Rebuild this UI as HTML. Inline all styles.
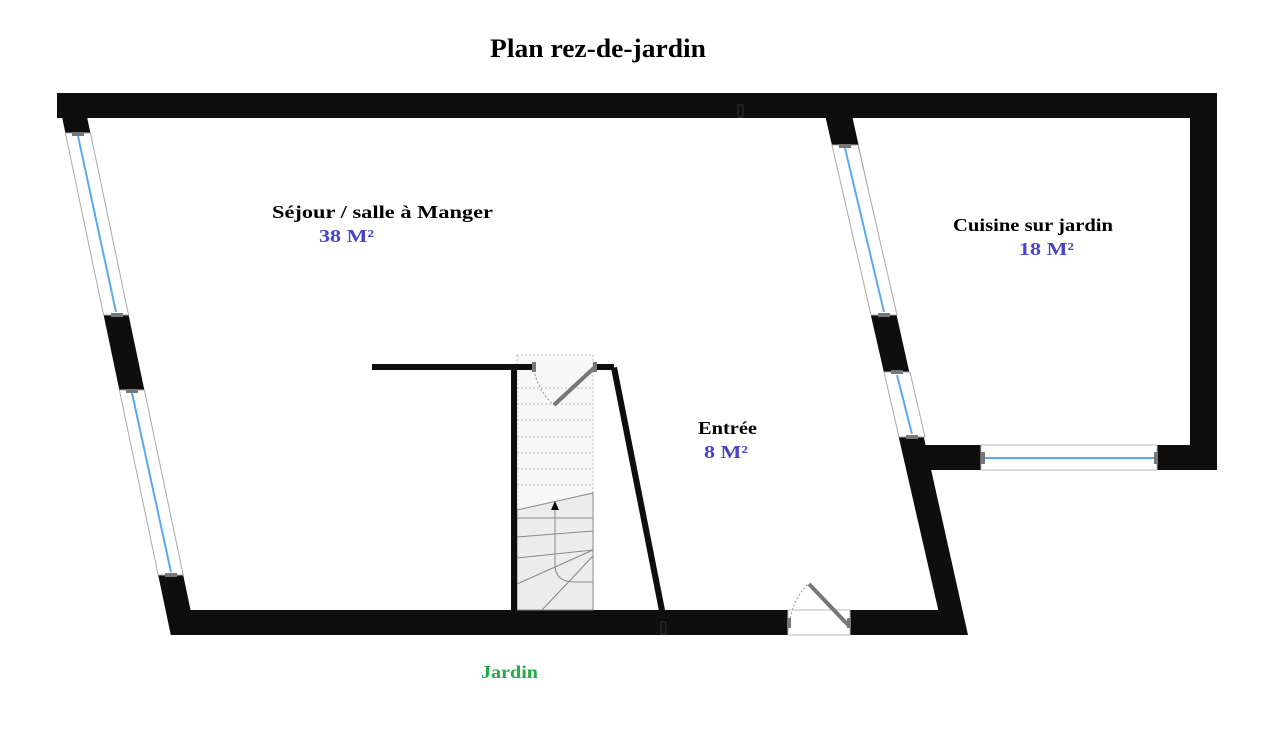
<!DOCTYPE html>
<html><head><meta charset="utf-8"><style>
html,body{margin:0;padding:0;background:#fff;}
svg{display:block;}
text{font-family:"Liberation Serif",serif;font-weight:bold;}
</style></head><body>
<svg width="1281" height="742" viewBox="0 0 1281 742" xmlns="http://www.w3.org/2000/svg">
<text x="490" y="57" font-size="26" textLength="216" lengthAdjust="spacingAndGlyphs" fill="#000">Plan rez-de-jardin</text>

<g fill="#0e0e0e">
  <rect x="57" y="93" width="1160" height="25"/>
  <polygon points="57,93 82,93 195.8,635 170.8,635"/>
  <rect x="180" y="610" width="608" height="25"/>
  <rect x="850" y="610" width="110" height="25"/>
  <polygon points="820,93 847,93 968,635 944,635"/>
  <rect x="1190" y="93" width="27" height="377"/>
  <rect x="915" y="445" width="302" height="25"/>
</g>

<g stroke-width="1">
  <polygon points="65.4,133 90.4,133 128.6,315 103.6,315" fill="#fff" stroke="#aaa"/>
  <line x1="78" y1="136" x2="116" y2="312" stroke="#5aaaf0" stroke-width="2"/>
  <polygon points="119.4,390 144.4,390 183.2,575 158.2,575" fill="#fff" stroke="#aaa"/>
  <line x1="132" y1="393" x2="171" y2="572" stroke="#5aaaf0" stroke-width="2"/>
  <polygon points="832,145 858,145 897,315 871,315" fill="#fff" stroke="#aaa"/>
  <line x1="845" y1="148" x2="884" y2="312" stroke="#5aaaf0" stroke-width="2"/>
  <polygon points="884,372 910,372 925,437 899,437" fill="#fff" stroke="#aaa"/>
  <line x1="897" y1="375" x2="912" y2="434" stroke="#5aaaf0" stroke-width="2"/>
  <rect x="981" y="445" width="176" height="25" fill="#fff" stroke="#bbb"/>
  <line x1="984" y1="458" x2="1154" y2="458" stroke="#5aaaf0" stroke-width="2"/>
</g>
<g fill="#777">
  <rect x="72" y="132" width="12" height="4"/><rect x="111" y="313" width="12" height="4"/>
  <rect x="126" y="389" width="12" height="4"/><rect x="165" y="573" width="12" height="4"/>
  <rect x="839" y="144" width="12" height="4"/><rect x="878" y="313" width="12" height="4"/>
  <rect x="891" y="370" width="12" height="4"/><rect x="906" y="435" width="12" height="4"/>
  <rect x="981" y="452" width="4" height="12"/><rect x="1154" y="452" width="4" height="12"/>
</g>

<rect x="788" y="610" width="62" height="25" fill="#fff" stroke="#bbb" stroke-width="1"/>
<line x1="849" y1="626" x2="809" y2="584" stroke="#777" stroke-width="4"/>
<path d="M790,622 A60,60 0 0 1 808,584" fill="none" stroke="#999" stroke-width="1" stroke-dasharray="2,2"/>
<rect x="787" y="618" width="4" height="10" fill="#777"/><rect x="847" y="618" width="4" height="10" fill="#777"/>

<rect x="517" y="355" width="76" height="255" fill="#f7f7f7" stroke="#bbb" stroke-width="1" stroke-dasharray="2,2"/>
<g stroke="#bbb" stroke-width="1" stroke-dasharray="2,2">
  <line x1="517" y1="388" x2="593" y2="388"/><line x1="517" y1="404" x2="593" y2="404"/>
  <line x1="517" y1="420" x2="593" y2="420"/><line x1="517" y1="437" x2="593" y2="437"/>
  <line x1="517" y1="453" x2="593" y2="453"/><line x1="517" y1="469" x2="593" y2="469"/>
  <line x1="517" y1="485" x2="593" y2="485"/>
</g>
<polygon points="517,510 593,493 593,610 517,610" fill="#ececec" stroke="#888" stroke-width="1"/>
<g stroke="#888" stroke-width="1" fill="none">
  <line x1="517" y1="518" x2="593" y2="518"/>
  <line x1="517" y1="537" x2="593" y2="531"/>
  <line x1="517" y1="558" x2="593" y2="550"/>
  <line x1="517" y1="584" x2="593" y2="550"/>
  <line x1="542" y1="610" x2="593" y2="556"/>
  <path d="M555,508 L555,565 Q555,582 575,582 L593,582"/>
</g>
<polygon points="555,501 551,510 559,510" fill="#000"/>

<g fill="#0e0e0e">
  <rect x="372" y="364" width="163" height="6"/>
  <rect x="511" y="364" width="6" height="256"/>
  <rect x="595" y="364" width="19" height="6"/>
  <polygon points="611,368 617,367 665,610 659,611"/>
</g>
<line x1="595" y1="367" x2="554" y2="405" stroke="#777" stroke-width="4"/>
<path d="M534,370 A60,60 0 0 0 554,405" fill="none" stroke="#999" stroke-width="1" stroke-dasharray="2,2"/>
<rect x="532" y="362" width="4" height="10" fill="#777"/><rect x="593" y="362" width="4" height="10" fill="#777"/>
<rect x="738" y="105" width="5" height="12" fill="none" stroke="#333" stroke-width="1"/>
<rect x="661" y="622" width="5" height="12" fill="none" stroke="#333" stroke-width="1"/>

<text x="272" y="218" font-size="18" textLength="221" lengthAdjust="spacingAndGlyphs" fill="#000">Séjour  /  salle à Manger</text>
<text x="319" y="242" font-size="18" textLength="55" lengthAdjust="spacingAndGlyphs" fill="#4646c8">38 M²</text>
<text x="953" y="231" font-size="18" textLength="160" lengthAdjust="spacingAndGlyphs" fill="#000">Cuisine sur jardin</text>
<text x="1019" y="255" font-size="18" textLength="55" lengthAdjust="spacingAndGlyphs" fill="#4646c8">18 M²</text>
<text x="698" y="434" font-size="18" textLength="59" lengthAdjust="spacingAndGlyphs" fill="#000">Entrée</text>
<text x="704" y="458" font-size="18" textLength="44" lengthAdjust="spacingAndGlyphs" fill="#4646c8">8 M²</text>
<text x="481" y="678" font-size="18" textLength="57" lengthAdjust="spacingAndGlyphs" fill="#22aa44">Jardin</text>
</svg>
</body></html>
